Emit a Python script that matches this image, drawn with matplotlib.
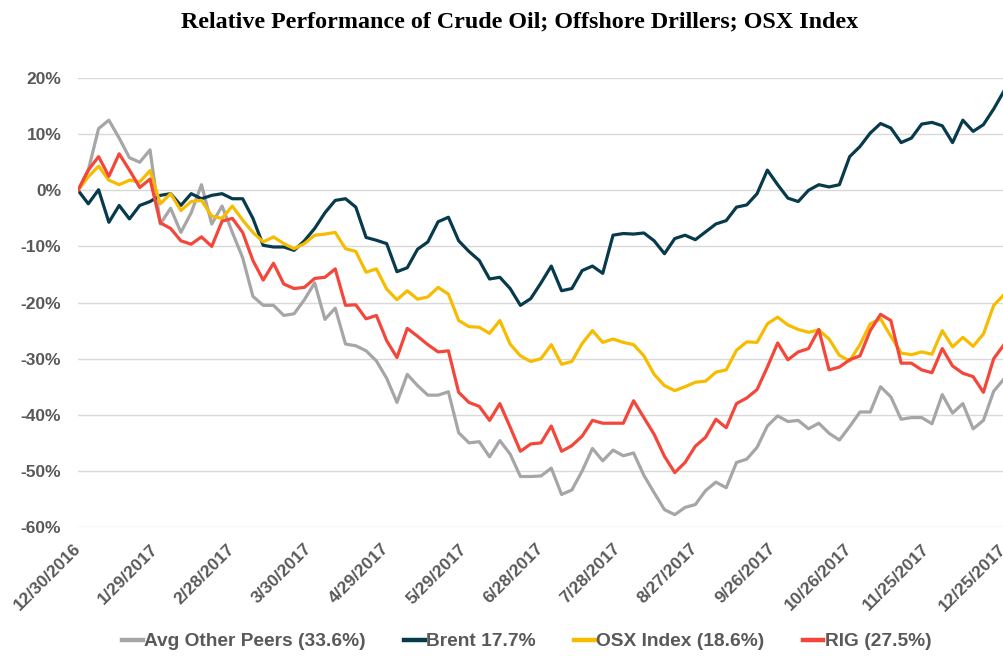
import matplotlib
matplotlib.use('Agg')
import matplotlib.pyplot as plt
import matplotlib.ticker as mticker
import pandas as pd

# jours depuis le 30/12/2016 (lecture tous les 4 jours)
day_offsets = [0, 4, 8, 12, 16, 20, 24, 28, 32, 36, 40, 44, 48, 52, 56, 60, 64, 68, 72, 76, 80, 84, 88,
               92, 96, 100, 104, 108, 112, 116, 120, 124, 128, 132, 136, 140, 144, 148, 152, 156, 160,
               164, 168, 172, 176, 180, 184, 188, 192, 196, 200, 204, 208, 212, 216, 220, 224, 228, 232,
               236, 240, 244, 248, 252, 256, 260, 264, 268, 272, 276, 280, 284, 288, 292, 296, 300, 304,
               308, 312, 316, 320, 324, 328, 332, 336, 340, 344, 348, 352, 356, 360]

peers = [0.0, 3.6, 11.0, 12.5, 9.3, 5.8, 5.0, 7.2, -6.0, -3.2, -7.5, -4.0, 1.0, -6.0, -2.8, -7.5,
         -12.0, -18.9, -20.5, -20.5, -22.3, -22.0, -19.5,
         -16.5, -23.0, -21.0, -27.4, -27.7, -28.6, -30.4, -33.5, -37.8, -32.8, -34.8, -36.5, -36.5,
         -35.9, -43.2, -45.0, -44.8, -47.5, -44.6, -47.0, -51.0, -51.0,
         -50.9, -49.5, -54.2, -53.4, -50.0, -46.0, -48.2, -46.3, -47.3, -46.8, -50.8, -53.9, -56.9,
         -57.8, -56.5, -56.0, -53.5, -52.0, -53.0, -48.5, -47.9, -45.8,
         -42.0, -40.2, -41.2, -41.0, -42.5, -41.5, -43.3, -44.5, -42.1, -39.5, -39.5, -35.0, -36.8,
         -40.8, -40.5, -40.5, -41.6, -36.4, -39.7, -38.0, -42.5, -41.0, -35.8, -33.6]

brent = [0.0, -2.4, 0.1, -5.7, -2.7, -5.1, -2.7, -2.0, -0.9, -0.6, -2.7, -0.6, -1.5, -0.9, -0.6,
         -1.5, -1.5, -5.0, -9.8, -10.1, -10.1, -10.7, -9.0,
         -6.8, -4.0, -1.8, -1.5, -3.0, -8.4, -8.9, -9.5, -14.5, -13.8, -10.5, -9.2, -5.6, -4.8,
         -9.0, -10.9, -12.5, -15.8, -15.5, -17.5, -20.5, -19.3,
         -16.5, -13.5, -17.9, -17.5, -14.3, -13.5, -14.8, -8.0, -7.7, -7.8, -7.6, -9.0, -11.3,
         -8.6, -8.0, -8.8, -7.4, -6.0, -5.4, -3.0, -2.6, -0.6,
         3.6, 1.0, -1.4, -2.0, 0.0, 1.0, 0.6, 1.0, 6.0, 7.8, 10.2, 11.9, 11.1, 8.5, 9.3, 11.8,
         12.1, 11.5, 8.5, 12.5, 10.5, 11.7, 14.5, 17.7]

osx = [0.0, 2.4, 4.3, 1.8, 1.0, 1.8, 1.5, 3.5, -2.4, -0.6, -3.6, -2.0, -1.8, -4.6, -5.0, -2.8,
       -5.3, -7.5, -9.2, -8.3, -9.5, -10.4, -9.5,
       -8.0, -7.8, -7.5, -10.4, -10.9, -14.6, -14.0, -17.6, -19.5, -17.9, -19.4, -19.0, -17.3,
       -18.5, -23.2, -24.3, -24.4, -25.5, -23.2, -27.4, -29.5, -30.5,
       -30.0, -27.5, -31.0, -30.5, -27.3, -25.0, -27.1, -26.5, -27.1, -27.5, -29.5, -32.8, -34.8,
       -35.7, -35.0, -34.2, -34.0, -32.4, -32.0, -28.5, -27.0, -27.1,
       -23.8, -22.6, -24.0, -24.8, -25.3, -24.9, -26.5, -29.4, -30.4, -27.5, -23.8, -22.9, -26.0,
       -29.0, -29.3, -28.8, -29.2, -25.0, -27.9, -26.2, -27.8, -25.6, -20.5, -18.6]

rig = [0.0, 3.6, 6.0, 2.5, 6.5, 3.6, 0.5, 2.0, -5.8, -6.8, -9.0, -9.6, -8.3, -10.0, -5.5, -5.0,
       -7.5, -12.5, -16.0, -13.0, -16.7, -17.5, -17.3,
       -15.7, -15.5, -14.0, -20.5, -20.4, -22.9, -22.3, -26.8, -29.8, -24.6, -26.0, -27.5, -28.8,
       -28.6, -36.0, -37.8, -38.5, -41.0, -38.0, -42.2, -46.5, -45.2,
       -45.0, -42.0, -46.5, -45.5, -43.8, -41.0, -41.5, -41.5, -41.5, -37.5, -40.5, -43.5, -47.4,
       -50.3, -48.5, -45.6, -44.0, -40.8, -42.3, -38.0, -37.0, -35.5,
       -31.5, -27.2, -30.2, -28.8, -28.2, -24.8, -32.0, -31.5, -30.2, -29.5, -25.0, -22.1, -23.2,
       -30.8, -30.8, -32.0, -32.5, -28.2, -31.3, -32.6, -33.2, -36.0, -30.0, -27.5]

series_names = ['Avg Other Peers (33.6%)', 'Brent 17.7%', 'OSX Index (18.6%)', 'RIG (27.5%)']
series_colors = ['#A6A6A6', '#073B4C', '#F7BC00', '#F4463A']

tick_labels = ['12/30/2016', '1/29/2017', '2/28/2017', '3/30/2017', '4/29/2017', '5/29/2017',
               '6/28/2017', '7/28/2017', '8/27/2017', '9/26/2017', '10/26/2017', '11/25/2017',
               '12/25/2017']
y_ticks = [-60, -50, -40, -30, -20, -10, 0, 10, 20]

text_color = '#595959'
plt.rcParams['font.family'] = ['Liberation Sans', 'DejaVu Sans']

dates = pd.Timestamp('2016-12-30') + pd.to_timedelta(day_offsets, unit='D')
tick_dates = pd.to_datetime(tick_labels, format='%m/%d/%Y')

fig = plt.figure(figsize=(10.04, 6.56), dpi=100)
ax = fig.add_axes([0.0777, 0.1966, 0.9223, 0.6844])

for values, name, color in zip([peers, brent, osx, rig], series_names, series_colors):
    ax.plot(dates, values, color=color, lw=2.3, label=name, solid_joinstyle='round')

ax.set_xlim(dates[0], dates[-1])
ax.set_ylim(-60, 20)
ax.set_yticks(y_ticks)
ax.yaxis.set_major_formatter(mticker.FuncFormatter(lambda v, p: f"{v:.0f}%"))
ax.set_xticks(tick_dates)
ax.set_xticklabels(tick_labels, rotation=45, ha='right', va='center', rotation_mode='anchor')

ax.grid(axis='y', color='#D9D9D9', lw=1)
ax.set_axisbelow(True)
for s in ax.spines.values():
    s.set_visible(False)
ax.tick_params(axis='both', length=0, labelsize=12.5, labelcolor=text_color)
ax.tick_params(axis='y', pad=12)
ax.tick_params(axis='x', pad=14)
for lbl in ax.get_xticklabels() + ax.get_yticklabels():
    lbl.set_fontweight('bold')

fig.text(0.517, 0.967, 'Relative Performance of Crude Oil; Offshore Drillers; OSX Index',
         family='Liberation Serif', weight='bold', fontsize=17.3, ha='center', va='center')

leg = fig.legend(loc='center', bbox_to_anchor=(0.525, 0.022), ncol=4, frameon=False,
                 handlelength=1.05, handletextpad=0.1, columnspacing=2.0,
                 prop={'weight': 'bold', 'size': 13.8}, labelcolor=text_color)
for h in leg.legend_handles:
    h.set_linewidth(3.2)

fig.savefig('out.png', dpi=100)
